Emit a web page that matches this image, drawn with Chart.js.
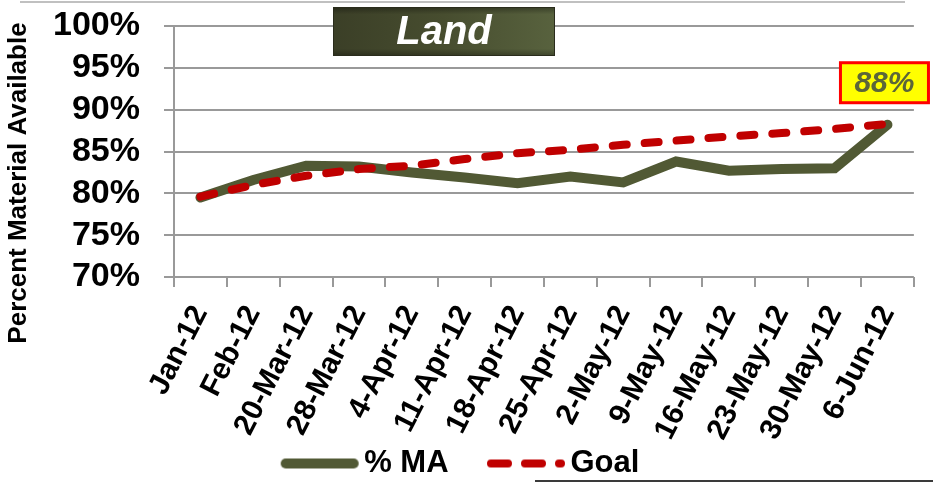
<!DOCTYPE html>
<html lang="en">
<head>
  <meta charset="UTF-8" />
  <title>Land - Percent Material Available</title>
  <script src="https://cdn.jsdelivr.net/npm/chart.js"></script>
  <style>
    html, body { margin: 0; padding: 0; background: #fff; }
    canvas { display: block; }
  </style>
</head>
<body>
  <canvas id="maChart" width="933" height="483"></canvas>

<script>
// chart data
const weeks = ['Jan-12', 'Feb-12', '20-Mar-12', '28-Mar-12', '4-Apr-12', '11-Apr-12', '18-Apr-12',
               '25-Apr-12', '2-May-12', '9-May-12', '16-May-12', '23-May-12', '30-May-12', '6-Jun-12'];
const pctMA = [79.5, 81.6, 83.3, 83.2, 82.5, 81.9, 81.2, 82.0, 81.3, 83.8, 82.7, 82.9, 83.0, 88.2];
const goal  = [79.6, 81.0, 82.1, 82.9, 83.3, 84.1, 84.8, 85.2, 85.8, 86.3, 86.8, 87.2, 87.7, 88.3];
const yTicks = [70, 75, 80, 85, 90, 95, 100];
const panelTitle = 'Land';
const yTitle = 'Percent Material Available';

const olive = '#515934';
const red = '#c00000';
const gridGray = '#999999';
const fontFamily = "'Liberation Sans', Arial, sans-serif";

// little canvases used as legend samples (thick line / dashed line)
function legendSample(color, width, dash) {
  const c = document.createElement('canvas');
  c.width = 98; c.height = 14;
  const g = c.getContext('2d');
  g.strokeStyle = color;
  g.lineWidth = width;
  g.lineCap = 'round';
  g.setLineDash(dash);
  g.beginPath();
  g.moveTo(15 + width / 2, 7);
  g.lineTo(93 - width / 2, 7);
  g.stroke();
  return c;
}
const maSample = legendSample(olive, 10, []);
const goalSample = legendSample(red, 8, [17, 17]);

// title box, y title, callout on the last point, slide lines
const decorations = {
  id: 'decorations',
  afterDraw(chart) {
    const ctx = chart.ctx;
    ctx.save();

    // stray slide lines
    ctx.strokeStyle = '#c0c0c0';
    ctx.lineWidth = 2;
    ctx.beginPath(); ctx.moveTo(20, 2); ctx.lineTo(905, 2); ctx.stroke();
    ctx.strokeStyle = '#3a3a3a';
    ctx.beginPath(); ctx.moveTo(535, 481); ctx.lineTo(933, 481); ctx.stroke();

    // "Land" box
    const bx = 333, by = 7, bw = 222, bh = 49;
    const g = ctx.createLinearGradient(bx, 0, bx + bw, 0);
    g.addColorStop(0, '#3b3f27');
    g.addColorStop(0.5, '#474d2f');
    g.addColorStop(1, '#58623e');
    ctx.fillStyle = g;
    ctx.fillRect(bx, by, bw, bh);
    const gv = ctx.createLinearGradient(0, by, 0, by + bh);
    gv.addColorStop(0, 'rgba(0,0,0,0.35)');
    gv.addColorStop(0.15, 'rgba(0,0,0,0)');
    gv.addColorStop(0.85, 'rgba(0,0,0,0)');
    gv.addColorStop(1, 'rgba(0,0,0,0.3)');
    ctx.fillStyle = gv;
    ctx.fillRect(bx, by, bw, bh);
    ctx.strokeStyle = '#2a2c1c';
    ctx.lineWidth = 1;
    ctx.strokeRect(bx + 0.5, by + 0.5, bw - 1, bh - 1);
    ctx.fillStyle = '#ffffff';
    ctx.font = 'italic bold 40px ' + fontFamily;
    ctx.textAlign = 'center';
    ctx.textBaseline = 'middle';
    ctx.fillText(panelTitle, bx + bw / 2, by + bh / 2 + 1);

    // y axis title
    ctx.save();
    ctx.translate(19, 183);
    ctx.rotate(-Math.PI / 2);
    ctx.fillStyle = '#000';
    ctx.font = 'bold 26px ' + fontFamily;
    ctx.fillText(yTitle, 0, 0);
    ctx.restore();

    // callout with the latest value
    const meta = chart.getDatasetMeta(0);
    const last = meta.data[meta.data.length - 1];
    const cw = 88, ch = 40;
    const cx = last.x - 3 - cw / 2, cy = last.y - 22 - ch;
    ctx.fillStyle = '#ffff00';
    ctx.fillRect(cx, cy, cw, ch);
    ctx.strokeStyle = '#ff0000';
    ctx.lineWidth = 3;
    ctx.strokeRect(cx, cy, cw, ch);
    ctx.fillStyle = '#5b6639';
    ctx.font = 'italic bold 30px ' + fontFamily;
    ctx.fillText(Math.round(pctMA[pctMA.length - 1]) + '%', cx + cw / 2, cy + ch / 2 + 1);

    ctx.restore();
  }
};

new Chart(document.getElementById('maChart'), {
  type: 'line',
  data: {
    labels: weeks,
    datasets: [
      {
        label: '% MA', data: pctMA, borderColor: olive, backgroundColor: olive,
        borderWidth: 10, pointRadius: 0, tension: 0, borderCapStyle: 'round',
        borderJoinStyle: 'miter', order: 2
      },
      {
        label: 'Goal', data: goal, borderColor: red, backgroundColor: red,
        borderWidth: 8, borderDash: [14, 18], borderCapStyle: 'round',
        pointRadius: 0, tension: 0, order: 1
      }
    ]
  },
  options: {
    responsive: false,
    animation: false,
    devicePixelRatio: 1,
    layout: { padding: { top: 26, right: 13, left: 0, bottom: -6 } },
    scales: {
      x: {
        offset: true,
        afterFit(scale) { scale.height = 167; },
        grid: { drawOnChartArea: false, drawTicks: true, tickLength: 10, offset: true, color: gridGray, lineWidth: 2 },
        border: { display: false },
        ticks: {
          color: '#000', font: { family: fontFamily, size: 30, weight: 'bold' },
          minRotation: 63, maxRotation: 63, autoSkip: false, padding: 13
        }
      },
      y: {
        min: yTicks[0], max: yTicks[yTicks.length - 1],
        afterFit(scale) {
          scale.width = 174;
          // let the plot start right at the layout padding
          scale.paddingTop = 0;
          scale.paddingBottom = 0;
        },
        afterBuildTicks(scale) { scale.ticks = yTicks.map(v => ({ value: v })); },
        grid: { color: gridGray, lineWidth: 2, tickLength: 10 },
        border: { color: gridGray, width: 2 },
        ticks: {
          color: '#000', font: { family: fontFamily, size: 34, weight: 'bold' },
          padding: 24, autoSkip: false,
          callback: v => v + '%'
        }
      }
    },
    plugins: {
      legend: {
        position: 'bottom',
        labels: {
          usePointStyle: true, pointStyleWidth: 68,
          padding: 4, color: '#000',
          font: { family: fontFamily, size: 31, weight: 'bold' },
          generateLabels(chart) {
            const items = Chart.defaults.plugins.legend.labels.generateLabels(chart);
            items.sort((a, b) => a.datasetIndex - b.datasetIndex);
            items.forEach(it => {
              it.pointStyle = it.datasetIndex === 0 ? maSample : goalSample;
              // spacing before the next entry
              if (it.datasetIndex === 0) it.text = it.text + '    ';
            });
            return items;
          }
        }
      },
      tooltip: { enabled: false }
    }
  },
  plugins: [decorations]
});
</script>
</body>
</html>
